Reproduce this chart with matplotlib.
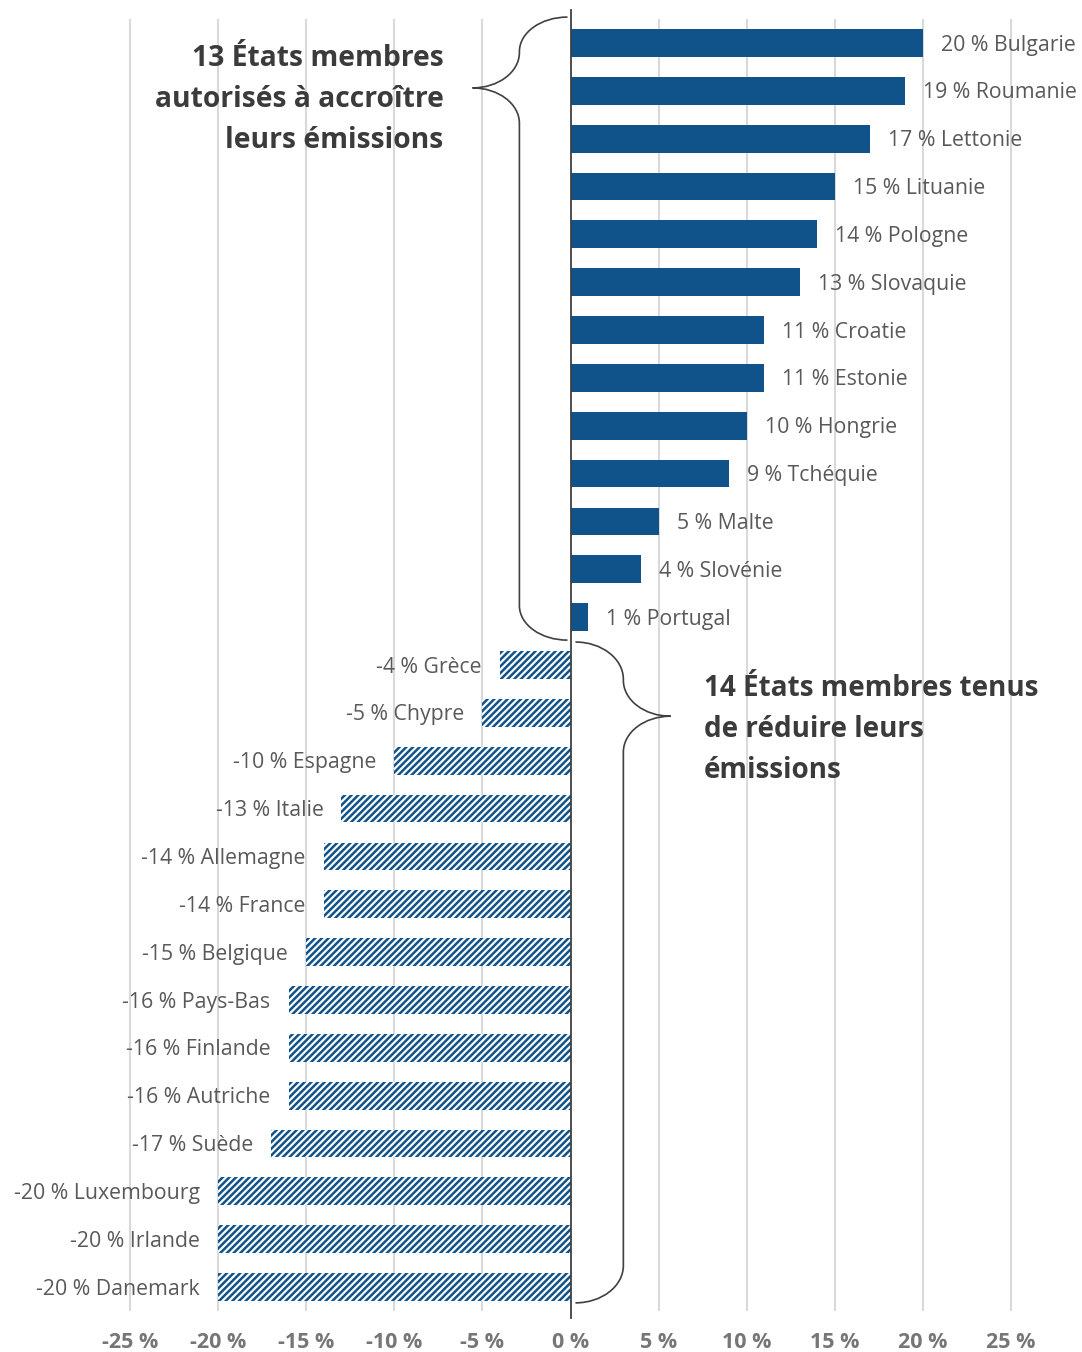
import matplotlib
matplotlib.use("Agg")
import matplotlib.pyplot as plt
from matplotlib.path import Path
from matplotlib.patches import PathPatch

plt.rcParams['font.family'] = ['Open Sans', 'DejaVu Sans']
plt.rcParams['hatch.linewidth'] = 1.8

# Member states allowed to increase emissions
increase_countries = ["Bulgarie", "Roumanie", "Lettonie", "Lituanie", "Pologne",
                      "Slovaquie", "Croatie", "Estonie", "Hongrie", "Tchéquie",
                      "Malte", "Slovénie", "Portugal"]
increase_values = [20, 19, 17, 15, 14, 13, 11, 11, 10, 9, 5, 4, 1]

# Member states required to reduce emissions
reduce_countries = ["Grèce", "Chypre", "Espagne", "Italie", "Allemagne", "France",
                    "Belgique", "Pays-Bas", "Finlande", "Autriche", "Suède",
                    "Luxembourg", "Irlande", "Danemark"]
reduce_values = [-4, -5, -10, -13, -14, -14, -15, -16, -16, -16, -17, -20, -20, -20]

x_ticks = [-25, -20, -15, -10, -5, 0, 5, 10, 15, 20, 25]
x_tick_labels = ["-25 %", "-20 %", "-15 %", "-10 %", "-5 %", "0 %",
                 "5 %", "10 %", "15 %", "20 %", "25 %"]

title_increase = "13 États membres\nautorisés à accroître\nleurs émissions"
title_reduce = "14 États membres tenus\nde réduire leurs\némissions"

BLUE = "#10528A"
LABEL_GREY = "#595959"
TICK_GREY = "#767676"
DARK = "#3B3B3B"

W, H = 1082, 1352
fig = plt.figure(figsize=(W / 100, H / 100), dpi=100)
# plot area: rows from y=19 px to y=1311 px, full width
ax = fig.add_axes([0, (H - 1311) / H, 1, (1311 - 19) / H])
ax.set_xlim(-25 - 130 / 17.62, 25 + 71 / 17.62)
n_inc = len(increase_values)
n_all = n_inc + len(reduce_values)
ax.set_ylim(n_all - 0.5, -0.5)

inc_pos = list(range(n_inc))
red_pos = list(range(n_inc, n_all))

ax.barh(inc_pos, increase_values, height=0.58, color=BLUE, linewidth=0, zorder=3)
ax.barh(red_pos, reduce_values, height=0.58, color="white", edgecolor=BLUE,
        hatch="/////", linewidth=0, zorder=3)

for y, v, c in zip(inc_pos, increase_values, increase_countries):
    ax.annotate(f"{v} % {c}", (v, y), xytext=(13, -1.5), textcoords="offset points",
                ha="left", va="center", fontsize=15.3, color=LABEL_GREY, zorder=4)
for y, v, c in zip(red_pos, reduce_values, reduce_countries):
    ax.annotate(f"{v} % {c}", (v, y), xytext=(-13, -1.5), textcoords="offset points",
                ha="right", va="center", fontsize=15.3, color=LABEL_GREY, zorder=4)

# grid and zero axis
for t in x_ticks:
    if t != 0:
        ax.axvline(t, color="#D9D9D9", linewidth=1.5, zorder=1)
ax.plot([0, 0], [-0.69, n_all - 0.36], color="#404040", linewidth=1.3,
        clip_on=False, zorder=5)

ax.set_xticks(x_ticks)
ax.set_xticklabels(x_tick_labels, fontsize=15.5, fontweight="bold", color=TICK_GREY)
ax.tick_params(axis="x", length=0, pad=15)
ax.set_yticks([])
for s in ax.spines.values():
    s.set_visible(False)


def brace(ax, x_end, x_mid, x_tip, y_top, y_tip, y_bot, h1, h2):
    """Curly brace: ends at x_end, straight part at x_mid, point at x_tip."""
    k = 0.552
    w1 = x_end - x_mid
    w2 = x_mid - x_tip
    verts = [
        (x_end, y_top),
        (x_end - k * w1, y_top), (x_mid, y_top + h1 - k * h1), (x_mid, y_top + h1),
        (x_mid, y_tip - h2),
        (x_mid, y_tip - h2 + k * h2), (x_tip + k * w2, y_tip), (x_tip, y_tip),
        (x_tip + k * w2, y_tip), (x_mid, y_tip + h2 - k * h2), (x_mid, y_tip + h2),
        (x_mid, y_bot - h1),
        (x_mid, y_bot - h1 + k * h1), (x_end - k * w1, y_bot), (x_end, y_bot),
    ]
    codes = [Path.MOVETO,
             Path.CURVE4, Path.CURVE4, Path.CURVE4,
             Path.LINETO,
             Path.CURVE4, Path.CURVE4, Path.CURVE4,
             Path.CURVE4, Path.CURVE4, Path.CURVE4,
             Path.LINETO,
             Path.CURVE4, Path.CURVE4, Path.CURVE4]
    ax.add_patch(PathPatch(Path(verts, codes), fill=False, edgecolor="#404040",
                           linewidth=1.2, clip_on=False, zorder=5))


# brace around the increasing group (opens to the right)
brace(ax, -0.17, -2.9, -5.56, -0.54, 0.94, n_inc - 0.52, 0.72, 0.74)
# brace around the reducing group (opens to the left)
brace(ax, 0.28, 3.0, 5.68, n_inc - 0.48, 14.07, n_all - 0.67, 0.78, 0.75)

ax.text(-7.2, 0.02, title_increase, ha="right", va="top", fontsize=20.3,
        fontweight="bold", color=DARK, linespacing=1.54)
ax.text(7.55, 13.19, title_reduce, ha="left", va="top", fontsize=20.1,
        fontweight="bold", color=DARK, linespacing=1.54)

fig.savefig("out.png", dpi=100, facecolor="white")
